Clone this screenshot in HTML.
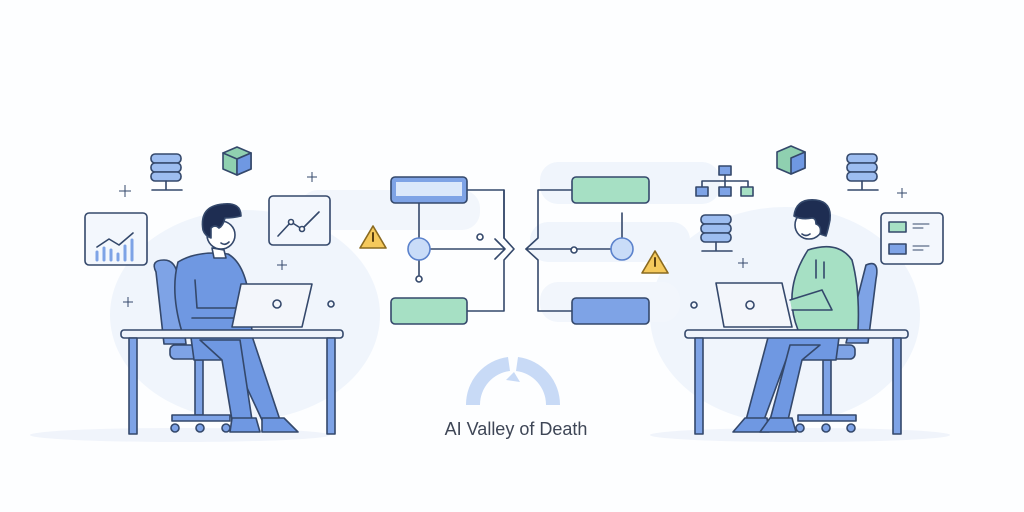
<!DOCTYPE html>
<html><head><style>body{margin:0;background:#fff}svg{display:block}</style></head><body>
<svg width="1024" height="512" viewBox="0 0 1024 512" xmlns="http://www.w3.org/2000/svg" font-family="Liberation Sans, sans-serif">
<rect width="1024" height="512" fill="#fdfeff"/>
<ellipse cx="245" cy="315" rx="135" ry="105" fill="#f0f5fc"/>
<ellipse cx="785" cy="315" rx="135" ry="108" fill="#f0f5fc"/>
<rect x="300" y="190" width="180" height="40" rx="18" fill="#f2f6fc"/>
<rect x="540" y="162" width="180" height="42" rx="18" fill="#f0f5fc"/>
<rect x="530" y="222" width="160" height="40" rx="18" fill="#f0f5fc"/>
<rect x="540" y="282" width="140" height="40" rx="18" fill="#f2f6fc"/>
<ellipse cx="180" cy="435" rx="150" ry="7" fill="#f0f4fb"/>
<ellipse cx="800" cy="435" rx="150" ry="7" fill="#f0f4fb"/>
<g stroke="#34486b" stroke-width="1.6" stroke-linejoin="round" stroke-linecap="round">
<!-- LEFT SCENE -->
<path d="M156 272 q-6 -12 8 -12 q12 0 14 18 l8 66 h-22 z" fill="#7ea3e6"/>
<rect x="170" y="345" width="60" height="14" rx="5" fill="#7ea3e6"/>
<rect x="195" y="360" width="8" height="55" fill="#7ea3e6"/>
<path d="M172 415 h58 v6 h-58z" fill="#7ea3e6"/>
<circle cx="175" cy="428" r="4" fill="#7ea3e6"/><circle cx="200" cy="428" r="4" fill="#7ea3e6"/><circle cx="226" cy="428" r="4" fill="#7ea3e6"/>
<path d="M190 330 h60 l30 90 h-18 l-28 -60 h-40 z" fill="#6f98e2"/>
<path d="M200 340 h40 l12 80 h-20 l-10 -60 z" fill="#6f98e2"/>
<path d="M232 418 h24 l4 14 h-30z" fill="#6f98e2"/>
<path d="M262 418 h22 l14 14 h-36z" fill="#6f98e2"/>
<path d="M178 262 q20 -12 50 -8 q18 10 22 50 l2 28 h-70 q-12 -40 -4 -70z" fill="#6f98e2"/>
<path d="M195 280 l2 28 h40 v10 h-45" fill="none"/>
<path d="M212 248 l2 10 h12 l-2 -8z" fill="#fff"/>
<circle cx="221" cy="235" r="14" fill="#fff"/>
<path d="M203 230 q-4 -24 20 -26 q18 -2 18 12 q-8 2 -16 2 q-2 8 -6 10 q-4 -4 -8 0 l0 10 q-6 -2 -8 -8z" fill="#1e2d52"/>
<path d="M221 243 q4 3 8 -1" fill="none"/>
<path d="M241 284 h71 l-10 43 h-70 z" fill="#f3f6fb"/>
<circle cx="277" cy="304" r="4" fill="none"/>
<circle cx="331" cy="304" r="3" fill="none"/>
<rect x="121" y="330" width="222" height="8" rx="3" fill="#eef3fb"/>
<rect x="129" y="338" width="8" height="96" fill="#7ea3e6"/>
<rect x="327" y="338" width="8" height="96" fill="#7ea3e6"/>
<rect x="85" y="213" width="62" height="52" rx="4" fill="#f3f7fd"/>
<path d="M97 247 l12 -8 l10 6 l14 -12" fill="none"/>
<g stroke="#7ea3e6" stroke-width="3"><path d="M97 260v-8M104 260v-12M111 260v-10M118 260v-6M125 260v-14M132 260v-20"/></g>
<rect x="269" y="196" width="61" height="49" rx="4" fill="#f3f7fd"/>
<path d="M278 236 l13 -14 l11 7 l17 -17" fill="none"/>
<circle cx="291" cy="222" r="2.5" fill="#fff"/><circle cx="302" cy="229" r="2.5" fill="#fff"/>
<g fill="#9dbdf0"><rect x="151" y="154" width="30" height="9" rx="4"/><rect x="151" y="163" width="30" height="9" rx="4"/><rect x="151" y="172" width="30" height="9" rx="4"/></g>
<path d="M166 181v8M152 190h30" fill="none"/>
<path d="M237 147 l14 6 v16 l-14 6 l-14 -6 v-16z" fill="#8fd0b0"/>
<path d="M223 153 l14 6 l14 -6 M237 159 v16" fill="none"/>
<path d="M237 159 l14 -6 v16 l-14 6z" fill="#6f98e2"/>
<!-- RIGHT SCENE -->
<path d="M866 265 q14 -6 10 14 l-8 64 h-22 z" fill="#7ea3e6"/>
<rect x="800" y="345" width="55" height="14" rx="5" fill="#7ea3e6"/>
<rect x="823" y="360" width="8" height="55" fill="#7ea3e6"/>
<path d="M798 415 h58 v6 h-58z" fill="#7ea3e6"/>
<circle cx="800" cy="428" r="4" fill="#7ea3e6"/><circle cx="826" cy="428" r="4" fill="#7ea3e6"/><circle cx="851" cy="428" r="4" fill="#7ea3e6"/>
<path d="M840 330 h-70 l-24 90 h18 l22 -60 h50 z" fill="#6f98e2"/>
<path d="M820 345 h-30 l-20 75 h18 l14 -60 z" fill="#6f98e2"/>
<path d="M745 418 h22 l2 14 h-36z" fill="#6f98e2"/>
<path d="M770 418 h22 l4 14 h-36z" fill="#6f98e2"/>
<path d="M808 250 q30 -10 44 10 q8 30 6 70 h-60 q-16 -40 10 -80z" fill="#a6e0c4"/>
<path d="M790 300 l32 -10 l10 20 h-40" fill="#a6e0c4"/>
<path d="M816 260 v18 M824 262 v16" fill="none"/>
<circle cx="809" cy="225" r="14" fill="#fff"/>
<path d="M794 216 q2 -18 22 -16 q16 2 14 20 q-2 10 -4 16 l-6 -2 q2 -8 -4 -10 q0 -6 -4 -6 q-10 2 -18 -2z" fill="#1e2d52"/>
<path d="M802 234 q4 3 8 0" fill="none"/>
<path d="M716 283 h66 l10 44 h-68 z" fill="#f3f6fb"/>
<circle cx="750" cy="305" r="4" fill="none"/>
<circle cx="694" cy="305" r="3" fill="none"/>
<rect x="685" y="330" width="223" height="8" rx="3" fill="#eef3fb"/>
<rect x="695" y="338" width="8" height="96" fill="#7ea3e6"/>
<rect x="893" y="338" width="8" height="96" fill="#7ea3e6"/>
<rect x="881" y="213" width="62" height="51" rx="4" fill="#f3f7fd"/>
<rect x="889" y="222" width="17" height="10" fill="#a6e0c4"/><rect x="889" y="244" width="17" height="10" fill="#7ea3e6"/>
<path d="M913 224h16M913 228h10M913 246h16M913 250h10" fill="none" stroke-width="1"/>
<g fill="#9dbdf0"><rect x="847" y="154" width="30" height="9" rx="4"/><rect x="847" y="163" width="30" height="9" rx="4"/><rect x="847" y="172" width="30" height="9" rx="4"/></g>
<path d="M862 181v8M848 190h30" fill="none"/>
<g fill="#9dbdf0"><rect x="701" y="215" width="30" height="9" rx="4"/><rect x="701" y="224" width="30" height="9" rx="4"/><rect x="701" y="233" width="30" height="9" rx="4"/></g>
<path d="M716 242v8M702 251h30" fill="none"/>
<path d="M791 146 l14 6 v16 l-14 6 l-14 -6 v-16z" fill="#8fd0b0"/>
<path d="M791 158 l14 -6 v16 l-14 6z" fill="#6f98e2"/>
<rect x="719" y="166" width="12" height="9" fill="#7ea3e6"/>
<path d="M725 175v6M702 181h46M702 181v6M725 181v6M748 181v6" fill="none"/>
<rect x="696" y="187" width="12" height="9" fill="#7ea3e6"/><rect x="719" y="187" width="12" height="9" fill="#7ea3e6"/><rect x="741" y="187" width="12" height="9" fill="#a6e0c4"/>
<!-- CENTER -->
<path d="M467 190 h37 v48" fill="none"/>
<path d="M429 249 h76 l-10 -10 M505 249 l-10 10" fill="none"/>
<path d="M504 190 v48 l10 11 l-10 11 v51 h-37" fill="none"/>
<path d="M419 203 v35 M419 260 v15" fill="none"/>
<path d="M572 190 h-34 v48 l-12 11 l12 11 v51 h34" fill="none"/>
<path d="M526 249 h85 M622 213 v25" fill="none"/>
<rect x="391" y="177" width="76" height="26" rx="4" fill="#7ea3e6"/>
<rect x="396" y="182" width="66" height="14" fill="#dbe8fb" stroke="none"/>
<rect x="391" y="298" width="76" height="26" rx="4" fill="#a6e0c4"/>
<rect x="572" y="177" width="77" height="26" rx="4" fill="#a6e0c4"/>
<rect x="572" y="298" width="77" height="26" rx="4" fill="#7ea3e6"/>
<circle cx="419" cy="249" r="11" fill="#c9dcf8" stroke="#5b82cc"/>
<circle cx="622" cy="249" r="11" fill="#c9dcf8" stroke="#5b82cc"/>
<circle cx="419" cy="279" r="3" fill="#fff"/><circle cx="480" cy="237" r="3" fill="#fff"/><circle cx="574" cy="250" r="3" fill="#fff"/>
<path d="M373 226 l13 22 h-26z" fill="#f5c95c" stroke="#8a6a20"/>
<path d="M655 251 l13 22 h-26z" fill="#f5c95c" stroke="#8a6a20"/>
<path d="M373 233v8M655 258v8" stroke="#5a4010" stroke-width="2"/>
</g>
<g fill="none" stroke="#34486b" stroke-width="1"><path d="M125 185v12M119 191h12M312 172v10M307 177h10M282 260v10M277 265h10M128 297v10M123 302h10M743 258v10M738 263h10M902 188v10M897 193h10"/></g>
<path d="M466 405 a48 48 0 0 1 42 -48 l2 14 a34 34 0 0 0 -30 34z" fill="#c8daf6"/>
<path d="M518 357 a48 48 0 0 1 42 48 h-14 a34 34 0 0 0 -30 -34z" fill="#c8daf6"/>
<path d="M506 380 l8 -8 l6 10z" fill="#c8daf6"/>
<text x="516" y="435" font-size="18" fill="#3e4656" text-anchor="middle">AI Valley of Death</text>
</svg>
</body></html>
